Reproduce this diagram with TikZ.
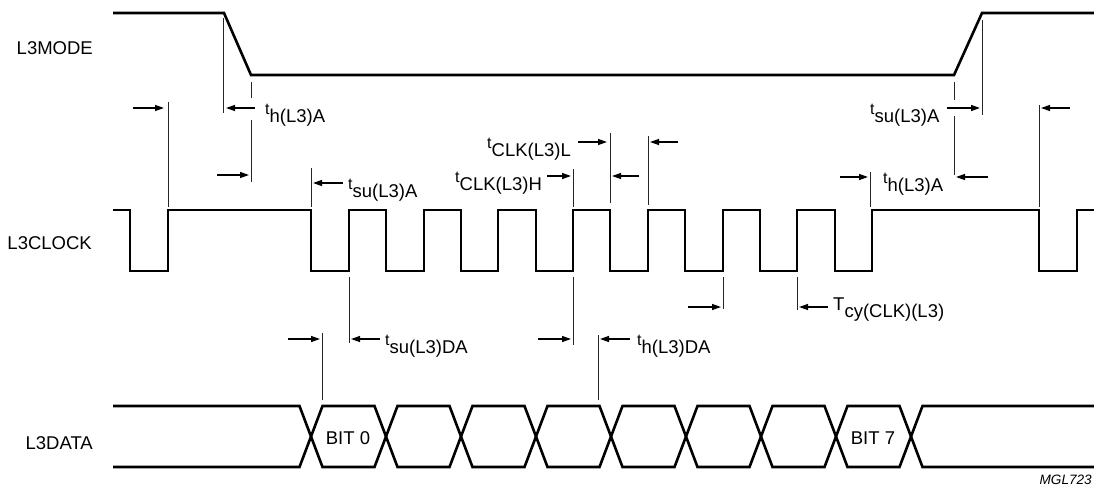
\documentclass[tikz,border=0pt]{standalone}
\usepackage{fontspec}
\setmainfont{Liberation Sans}
\usetikzlibrary{arrows.meta}
\newcommand\tsubl[1]{{\fontsize{16}{16}\selectfont t}\raisebox{-8pt}{#1}}
\newcommand\Tsubl[1]{T\raisebox{-7pt}{#1}}
\begin{document}
\begin{tikzpicture}[x=1pt,y=-1pt,
  sig/.style={line width=2.6pt,line join=miter},
  guide/.style={line width=0.9pt,black!85},
  dim/.style={line width=1.3pt,-{Triangle[length=9pt,width=6pt]}},
  lbl/.style={inner sep=0pt,anchor=base west,font=\fontsize{18.5}{20}\selectfont},
  sname/.style={inner sep=0pt,anchor=base east,font=\fontsize{18.5}{20}\selectfont}]
\useasboundingbox (0,0) rectangle (1094,490);
% signal names
\node[sname] (nmode) at (93,54) {L3MODE};
\node[sname] (nclk) at (92,249) {L3CLOCK};
\node[sname] (ndata) at (93,449) {L3DATA};
% L3MODE
\draw[sig] (113,13) -- (224,13) -- (251,75) -- (954,75) -- (982,13) -- (1094,13);
% L3CLOCK
\draw[sig] (113,210) -- (130,210) -- (130,271) -- (168,271) -- (168,210) -- (311,210)
  -- (311,271) -- (349,271) -- (349,210) -- (386,210) -- (386,271) -- (424,271) -- (424,210)
  -- (461,210) -- (461,271) -- (498,271) -- (498,210) -- (536,210) -- (536,271) -- (573,271)
  -- (573,210) -- (610,210) -- (610,271) -- (648,271) -- (648,210) -- (685,210) -- (685,271)
  -- (723,271) -- (723,210) -- (760,210) -- (760,271) -- (797,271) -- (797,210) -- (835,210)
  -- (835,271) -- (872,271) -- (872,210) -- (1039,210) -- (1039,271) -- (1077,271)
  -- (1077,210) -- (1094,210);
% L3DATA
\draw[sig] (113,406) -- (299.5,406) -- (322.5,467) -- (374.5,467) -- (397.5,406) -- (449.5,406)
  -- (472.5,467) -- (524.5,467) -- (547.5,406) -- (599.5,406) -- (622.5,467) -- (674.5,467)
  -- (697.5,406) -- (749.5,406) -- (772.5,467) -- (824.5,467) -- (847.5,406) -- (899.5,406)
  -- (922.5,467) -- (1094,467);
\draw[sig] (113,467) -- (299.5,467) -- (322.5,406) -- (374.5,406) -- (397.5,467) -- (449.5,467)
  -- (472.5,406) -- (524.5,406) -- (547.5,467) -- (599.5,467) -- (622.5,406) -- (674.5,406)
  -- (697.5,467) -- (749.5,467) -- (772.5,406) -- (824.5,406) -- (847.5,467) -- (899.5,467)
  -- (922.5,406) -- (1094,406);
\node[font=\fontsize{18.5}{20}\selectfont,inner sep=0pt] (bit0) at (348,438) {BIT 0};
\node[font=\fontsize{18.5}{20}\selectfont,inner sep=0pt] (bit7) at (873,438) {BIT 7};
% guide lines
\draw[guide] (168,102) -- (168,207);
\draw[guide] (223,18) -- (223,113);
\draw[guide] (251,82) -- (251,98) (251,120) -- (251,182);
\draw[guide] (311,168) -- (311,207);
\draw[guide] (610,133) -- (610,203);
\draw[guide] (648,136) -- (648,205);
\draw[guide] (573,169) -- (573,207) (573,277) -- (573,345);
\draw[guide] (349,277) -- (349,343);
\draw[guide] (322,333) -- (322,400);
\draw[guide] (598,335) -- (598,400);
\draw[guide] (723,277) -- (723,309);
\draw[guide] (797,277) -- (797,310);
\draw[guide] (982,20) -- (982,115);
\draw[guide] (954,82) -- (954,100) (954,116) -- (954,175);
\draw[guide] (870,172) -- (870,207);
\draw[guide] (1039,105) -- (1039,207);
% dimension arrows
\draw[dim] (133,108) -- (164,108);
\draw[dim] (255,108) -- (226,108);
\draw[dim] (217,175) -- (249,175);
\draw[dim] (343,183) -- (313,183);
\draw[dim] (578,142) -- (607,142);
\draw[dim] (678,142) -- (650,142);
\draw[dim] (639,176) -- (612,176);
\draw[dim] (547,176) -- (571,176);
\draw[dim] (288,339) -- (320,339);
\draw[dim] (380,339) -- (351,339);
\draw[dim] (538,339) -- (571,339);
\draw[dim] (630,339) -- (600,339);
\draw[dim] (688,307) -- (721,307);
\draw[dim] (828,307) -- (799,307);
\draw[dim] (947,108) -- (980,108);
\draw[dim] (840,177) -- (868,177);
\draw[dim] (988,177) -- (956,177);
\draw[dim] (1070,108) -- (1041,108);
% timing labels
\node[lbl] (thA1) at (265,114) {\tsubl{h(L3)A}};
\node[lbl] (tsuA1) at (348,189) {\tsubl{su(L3)A}};
\node[lbl] (tclkL) at (487,148) {\tsubl{CLK(L3)L}};
\node[lbl] (tclkH) at (455,182) {\tsubl{CLK(L3)H}};
\node[lbl] (tsuDA) at (385,345) {\tsubl{su(L3)DA}};
\node[lbl] (thDA) at (637,345) {\tsubl{h(L3)DA}};
\node[lbl] (tcy) at (833,310) {\Tsubl{cy(CLK)(L3)}};
\node[lbl] (tsuA2) at (870,114) {\tsubl{su(L3)A}};
\node[lbl] (thA2) at (883,183) {\tsubl{h(L3)A}};
% figure code
\node[inner sep=0pt,anchor=base east,font=\fontsize{13.6}{14}\selectfont\itshape] (code) at (1092,484) {MGL723};
\end{tikzpicture}
\end{document}
